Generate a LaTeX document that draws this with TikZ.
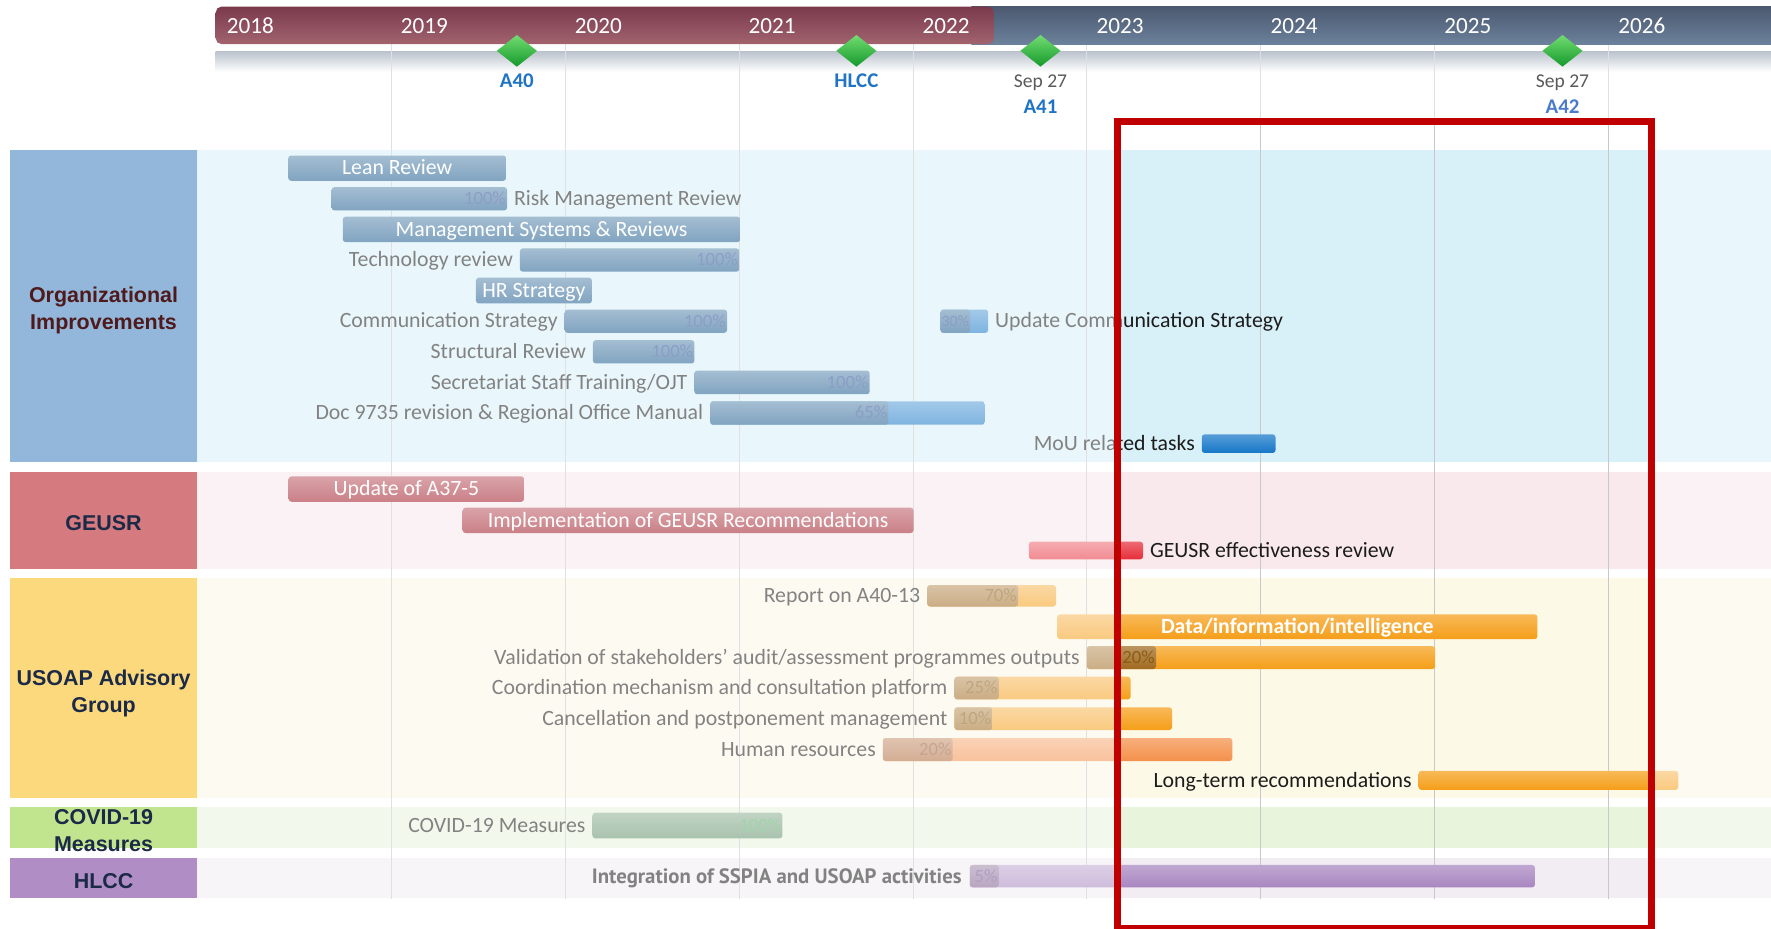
\documentclass[tikz,border=0pt]{standalone}
\usepackage{fontspec}
\setmainfont{Carlito}
\newfontfamily\catfont{Liberation Sans}
\newfontfamily\ptfont{PT Sans}
% pre-fade (inside highlight) colours
\definecolor{orgbg}{HTML}{D8F0F8}
\definecolor{geubg}{HTML}{F9E9ED}
\definecolor{usobg}{HTML}{FDF9E7}
\definecolor{covbg}{HTML}{E9F4DC}
\definecolor{hlcbg}{HTML}{F2EDF2}
\definecolor{gridc}{HTML}{C8C8C8}
\definecolor{txt}{HTML}{1C1C1C}
\definecolor{bluedone}{HTML}{1A5A8E}
\definecolor{bluelite}{HTML}{1677C8}
\definecolor{bluepct}{HTML}{2E4E98}
\definecolor{rosedone}{HTML}{A01826}
\definecolor{redc}{HTML}{E62E3A}
\definecolor{orangec}{HTML}{F59E18}
\definecolor{orangepro}{HTML}{A06A20}
\definecolor{orangepct}{HTML}{8C5C14}
\definecolor{salmonc}{HTML}{F4904A}
\definecolor{salmonpro}{HTML}{B06A3A}
\definecolor{salmonpct}{HTML}{9A5A30}
\definecolor{greenc}{HTML}{63926C}
\definecolor{greenpct}{HTML}{55B064}
\definecolor{purplec}{HTML}{A886C0}
\definecolor{purplepro}{HTML}{7E5D8D}
\definecolor{purplepct}{HTML}{725090}
\definecolor{bandtop}{HTML}{8594A6}
% drawn-on-top colours
\definecolor{orgcat}{HTML}{93B7DB}
\definecolor{geucat}{HTML}{D57A7E}
\definecolor{usocat}{HTML}{FDD97D}
\definecolor{covcat}{HTML}{C1E58E}
\definecolor{hlccat}{HTML}{B08EC5}
\definecolor{orgtxt}{HTML}{4E1A1C}
\definecolor{navytxt}{HTML}{1B2A47}
\definecolor{msblue}{HTML}{1F74C6}
\definecolor{msblue2}{HTML}{4A7ACC}
\definecolor{msgray}{HTML}{5A5A5A}
\definecolor{boxred}{HTML}{C00000}
\definecolor{crimtop}{HTML}{7A3A4C}
\definecolor{crimbot}{HTML}{A2636F}
\definecolor{slatetop}{HTML}{4B5970}
\definecolor{slatebot}{HTML}{6C819B}
\definecolor{dmtop}{HTML}{72DC70}
\definecolor{dmbot}{HTML}{14992C}

\newcommand\chartfont{\fontsize{19.3}{22}\selectfont}
\tikzset{
  barbox/.style={rectangle, rounded corners=2.5pt, inner sep=0pt, outer sep=0pt, draw=none},
  lbl/.style={inner sep=0pt, font=\chartfont, text=txt},
  inlbl/.style={inner sep=0pt, font=\chartfont, text=white},
  pct/.style={inner sep=0pt, font=\fontsize{16.5}{20}\selectfont},
  gridline/.style={draw=gridc, line width=0.8pt},
  catbox/.style={rectangle, inner sep=0pt, outer sep=0pt, draw=none},
  cattext/.style={inner sep=0pt, align=center, font=\catfont\bfseries\fontsize{19}{24}\selectfont},
  yearlbl/.style={inner sep=0pt, anchor=base west, text=white, font=\fontsize{20.5}{24}\selectfont},
  mslbl/.style={inner sep=0pt, anchor=base, text=msblue, font=\bfseries\fontsize{18.5}{22}\selectfont},
  msdate/.style={inner sep=0pt, anchor=base, text=msgray, font=\fontsize{17.3}{20}\selectfont}
}
% name, x1, x2, yc, h, colour
\newcommand\gbar[6]{\node[barbox, top color=#6!72!white, bottom color=#6, minimum width={#3-#2}, minimum height=#5] (#1) at ({(#2+#3)/2},#4) {};}
\newcommand\lleft[2]{\node[lbl, anchor=base east] (#1-l) at ([xshift=-6pt,yshift=-5.9pt]#1.west) {#2};}
\newcommand\lright[2]{\node[lbl, anchor=base west] (#1-l) at ([xshift=6pt,yshift=-5.9pt]#1.east) {#2};}
\newcommand\lin[2]{\node[inlbl, anchor=base] (#1-l) at ([yshift=-5.9pt]#1.center) {#2};}
\newcommand\pctl[3]{\node[pct, text=#3, anchor=base east] (#1-p) at ([xshift=-1pt,yshift=-5.2pt]#1.east) {#2};}
\newcommand\mstone[2]{\coordinate (#1) at (#2,45);
  \shade[top color=dmtop, bottom color=dmbot] (#2,31) -- ++(17.8,14) -- ++(-17.8,14) -- ++(-17.8,-14) -- cycle;}

\begin{document}
\begin{tikzpicture}[x=1pt,y=-1pt]
\useasboundingbox (0,0) rectangle (1568,822.5);
\fill[white] (0,0) rectangle (1568,822.5);

% ---------- faded layer ----------
\fill[orgbg] (174.8,132.8) rectangle (1575,408.8);
\fill[geubg] (174.8,417.6) rectangle (1575,503.8);
\fill[usobg] (174.8,512) rectangle (1575,706.6);
\fill[covbg] (174.8,714.8) rectangle (1575,751);
\fill[hlcbg] (174.8,760) rectangle (1575,795.3);
\shade[top color=bandtop, bottom color=white] (191,45.8) rectangle (1575,63.5);
\foreach \gx in {346.6,500.5,654.4,808.3,962.2,1116.1,1270,1423.9}
  \draw[gridline] (\gx,39) -- (\gx,796);

% Organizational Improvements
\gbar{lean}{255.2}{448.1}{148.9}{22.3}{bluedone}
\lin{lean}{Lean Review}
\gbar{risk}{293.6}{449}{176}{20.5}{bluedone}
\pctl{risk}{100\%}{bluepct}
\lright{risk}{Risk Management Review}
\gbar{mgmt}{303.5}{655.4}{203.1}{22.5}{bluedone}
\lin{mgmt}{Management Systems \& Reviews}
\gbar{tech}{460.3}{654.5}{230.2}{20.6}{bluedone}
\pctl{tech}{100\%}{bluepct}
\lleft{tech}{Technology review}
\gbar{hr}{421.4}{524}{257.3}{22.8}{bluedone}
\lin{hr}{HR Strategy}
\gbar{comm}{500}{643.7}{284.4}{20.6}{bluedone}
\pctl{comm}{100\%}{bluepct}
\lleft{comm}{Communication Strategy}
\gbar{upd}{832.7}{874.9}{284.4}{20.6}{bluelite}
\gbar{updp}{832.7}{859}{284.4}{20.6}{bluedone}
\node[pct, text=bluepct, anchor=base, font=\fontsize{14}{16}\selectfont] (updp-p) at ([yshift=-4.6pt]updp.center) {30\%};
\lright{upd}{Update Communication Strategy}
\gbar{struct}{525}{614.8}{311.5}{20.6}{bluedone}
\pctl{struct}{100\%}{bluepct}
\lleft{struct}{Structural Review}
\gbar{secr}{614.8}{770}{338.6}{20.9}{bluedone}
\pctl{secr}{100\%}{bluepct}
\lleft{secr}{Secretariat Staff Training/OJT}
\gbar{doc}{628.8}{872}{365.7}{20.7}{bluelite}
\gbar{docp}{628.8}{786.6}{365.7}{20.7}{bluedone}
\pctl{docp}{65\%}{bluepct}
\lleft{doc}{Doc 9735 revision \& Regional Office Manual}
\gbar{mou}{1064}{1129.3}{392.8}{16.5}{bluelite}
\lleft{mou}{MoU related tasks}

% GEUSR
\gbar{a375}{255.6}{464}{433}{22.5}{rosedone}
\lin{a375}{Update of A37-5}
\gbar{impl}{409.6}{808.8}{460.7}{22.4}{rosedone}
\lin{impl}{Implementation of GEUSR Recommendations}
\gbar{eff}{910.9}{1012}{487.4}{15.6}{redc}
\lright{eff}{GEUSR effectiveness review}

% USOAP Advisory Group
\gbar{rep}{820.9}{935}{527.5}{19}{orangec}
\gbar{repp}{820.9}{901.4}{527.5}{19}{orangepro}
\pctl{repp}{70\%}{orangepct}
\lleft{rep}{Report on A40-13}
\gbar{data}{936.1}{1361.1}{554.9}{22}{orangec}
\node[inlbl, anchor=base, font=\bfseries\chartfont] (data-l) at ([yshift=-5.9pt]data.center) {Data/information/intelligence};
\gbar{val}{962.2}{1270.6}{582.2}{20.3}{orangec}
\gbar{valp}{962.2}{1023.5}{582.2}{20.3}{orangepro}
\pctl{valp}{20\%}{orangepct}
\lleft{val}{Validation of stakeholders' audit/assessment programmes outputs}
\gbar{coord}{845}{1001}{609.2}{20.1}{orangec}
\gbar{coordp}{845}{884.3}{609.2}{20.1}{orangepro}
\pctl{coordp}{25\%}{orangepct}
\lleft{coord}{Coordination mechanism and consultation platform}
\gbar{canc}{845}{1037.7}{636.3}{20.1}{orangec}
\gbar{cancp}{845}{878.7}{636.3}{20.1}{orangepro}
\pctl{cancp}{10\%}{orangepct}
\lleft{canc}{Cancellation and postponement management}
\gbar{hum}{781.6}{1091}{663.6}{20.4}{salmonc}
\gbar{hump}{781.6}{843.5}{663.6}{20.4}{salmonpro}
\pctl{hump}{20\%}{salmonpct}
\lleft{hum}{Human resources}
\gbar{long}{1256}{1485.9}{690.9}{17}{orangec}
\lleft{long}{Long-term recommendations}

% COVID-19
\gbar{cov}{524.5}{692.7}{730.9}{22.7}{greenc}
\pctl{cov}{100\%}{greenpct}
\lleft{cov}{COVID-19 Measures}

% HLCC
\gbar{integ}{858.6}{1359}{775.7}{19.8}{purplec}
\gbar{integp}{858.6}{884.3}{775.7}{19.8}{purplepro}
\pctl{integp}{5\%}{purplepct}
\node[lbl, anchor=base east, font=\ptfont\bfseries\fontsize{18.4}{22}\selectfont] (integ-l) at ([xshift=-7pt,yshift=-6.2pt]integ.west) {Integration of SSPIA and USOAP activities};

% ---------- fade everything outside the highlight ----------
\fill[white, fill opacity=0.45, even odd rule] (174.8,38) rectangle (1575,830) (989.3,107.7) rectangle (1462.2,830);

% ---------- header ----------
\shade[top color=slatetop, bottom color=slatebot] (860,5.9) rectangle (1575,39);
\shade[top color=crimtop, bottom color=crimbot, rounded corners=5pt] (191,5.9) rectangle (880,39);
\foreach \yr [count=\k from 0] in {2018,...,2026}
  \node[yearlbl] (yr\yr) at ({200.7+154*\k},29.5) {\yr};

\mstone{msA40}{457.6}
\mstone{msHLCC}{758.2}
\mstone{msA41}{921.2}
\mstone{msA42}{1383.4}
\node[mslbl] (A40-l) at ([yshift=-32.3pt]msA40) {A40};
\node[mslbl] (HLCC-l) at ([yshift=-32.3pt]msHLCC) {HLCC};
\node[msdate] (A41-d) at ([yshift=-32.3pt]msA41) {Sep 27};
\node[mslbl] (A41-l) at ([yshift=-55.3pt]msA41) {A41};
\node[msdate] (A42-d) at ([yshift=-32.3pt]msA42) {Sep 27};
\node[mslbl, text=msblue2] (A42-l) at ([yshift=-55.3pt]msA42) {A42};

% ---------- category blocks ----------
\node[catbox, fill=orgcat, minimum width=166.2, minimum height=276] (cat-org) at (91.7,270.8) {};
\node[cattext, text=orgtxt] (cat-org-t) at (91.7,274.5) {Organizational\\Improvements};
\node[catbox, fill=geucat, minimum width=166.2, minimum height=86.2] (cat-geu) at (91.7,460.7) {};
\node[cattext, text=navytxt] (cat-geu-t) at (91.7,462.7) {GEUSR};
\node[catbox, fill=usocat, minimum width=166.2, minimum height=194.6] (cat-uso) at (91.7,609.3) {};
\node[cattext, text=navytxt] (cat-uso-t) at (91.7,614) {USOAP Advisory\\Group};
\node[catbox, fill=covcat, minimum width=166.2, minimum height=36.2] (cat-cov) at (91.7,732.9) {};
\node[cattext, text=navytxt] (cat-cov-t) at (91.7,735.5) {COVID-19\\Measures};
\node[catbox, fill=hlccat, minimum width=166.2, minimum height=35.3] (cat-hlc) at (91.7,777.65) {};
\node[cattext, text=navytxt] (cat-hlc-t) at (91.7,779.7) {HLCC};

% ---------- highlight box ----------
\draw[boxred, line width=6.5pt] (989.3,107.7) rectangle (1462.2,822);
\end{tikzpicture}
\end{document}
